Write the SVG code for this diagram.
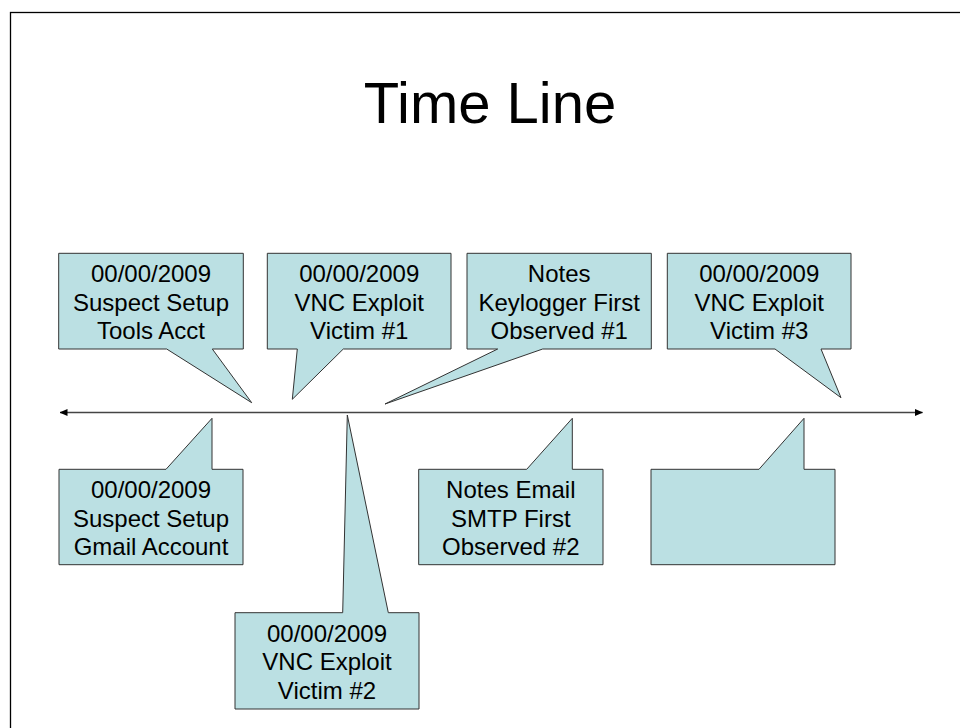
<svg xmlns="http://www.w3.org/2000/svg" width="960" height="728" viewBox="0 0 960 728">
<style>
.co{fill:#BBE0E3;stroke:#333333;stroke-width:1;stroke-linejoin:miter}
.t{font-family:"Liberation Sans",Arial,sans-serif;font-size:24px;fill:#000;text-anchor:middle}
.title{font-family:"Liberation Sans",Arial,sans-serif;font-size:58px;fill:#000;text-anchor:middle}
</style>
<defs>
<marker id="ah" viewBox="0 0 8 7" refX="7.5" refY="3.5" markerWidth="8" markerHeight="7" markerUnits="userSpaceOnUse" orient="auto-start-reverse">
<path d="M0,0 L8,3.5 L0,7 Z" fill="#000"/>
</marker>
</defs>
<rect x="0" y="0" width="960" height="728" fill="#fff"/>
<rect x="10.5" y="12.5" width="960" height="730" fill="none" stroke="#000" stroke-width="1.3"/>
<text class="title" x="490" y="123">Time Line</text>
<g id="connectors">
<line x1="60" y1="412.5" x2="922.5" y2="412.5" stroke="#444" stroke-width="1.3" marker-start="url(#ah)" marker-end="url(#ah)"/>
</g>
<g id="n1">
<path class="co" d="M58.7,253.3 H243.3 V349 H212.3 L251.7,402.7 L166.7,349 H58.7 Z"/>
<text class="t" x="151" y="282.3">00/00/2009</text>
<text class="t" x="151" y="310.8">Suspect Setup</text>
<text class="t" x="151" y="339.3">Tools Acct</text>
</g>
<g id="n2">
<path class="co" d="M267.3,253.3 H451 V349 H343.3 L292.3,399.3 L297.3,349 H267.3 Z"/>
<text class="t" x="359.2" y="282.3">00/00/2009</text>
<text class="t" x="359.2" y="310.8">VNC Exploit</text>
<text class="t" x="359.2" y="339.3">Victim #1</text>
</g>
<g id="n3">
<path class="co" d="M467,253.3 H651.3 V349 H542.7 L385,404 L497.7,349 H467 Z"/>
<text class="t" x="559.2" y="282.3">Notes</text>
<text class="t" x="559.2" y="310.8">Keylogger First</text>
<text class="t" x="559.2" y="339.3">Observed #1</text>
</g>
<g id="n4">
<path class="co" d="M667.3,253.3 H851 V349 H821 L841,397.7 L775,349 H667.3 Z"/>
<text class="t" x="759.2" y="282.3">00/00/2009</text>
<text class="t" x="759.2" y="310.8">VNC Exploit</text>
<text class="t" x="759.2" y="339.3">Victim #3</text>
</g>
<g id="n5">
<path class="co" d="M59,469.3 H166 L212,418.3 V469.3 H243 V564.7 H59 Z"/>
<text class="t" x="151" y="498.3">00/00/2009</text>
<text class="t" x="151" y="526.7">Suspect Setup</text>
<text class="t" x="151" y="555">Gmail Account</text>
</g>
<g id="n6">
<path class="co" d="M235,612.7 H342.7 L347.3,415 L388.3,612.7 H419 V709 H235 Z"/>
<text class="t" x="327" y="642">00/00/2009</text>
<text class="t" x="327" y="670.3">VNC Exploit</text>
<text class="t" x="327" y="698.5">Victim #2</text>
</g>
<g id="n7">
<path class="co" d="M418.7,469.3 H526.7 L572.3,418.3 V469.3 H603 V564.7 H418.7 Z"/>
<text class="t" x="510.8" y="498.3">Notes Email</text>
<text class="t" x="510.8" y="526.7">SMTP First</text>
<text class="t" x="510.8" y="555.3">Observed #2</text>
</g>
<g id="n8">
<path class="co" d="M651,469.3 H759 L804,418.3 V469.3 H835 V564.7 H651 Z"/>
</g>
</svg>
